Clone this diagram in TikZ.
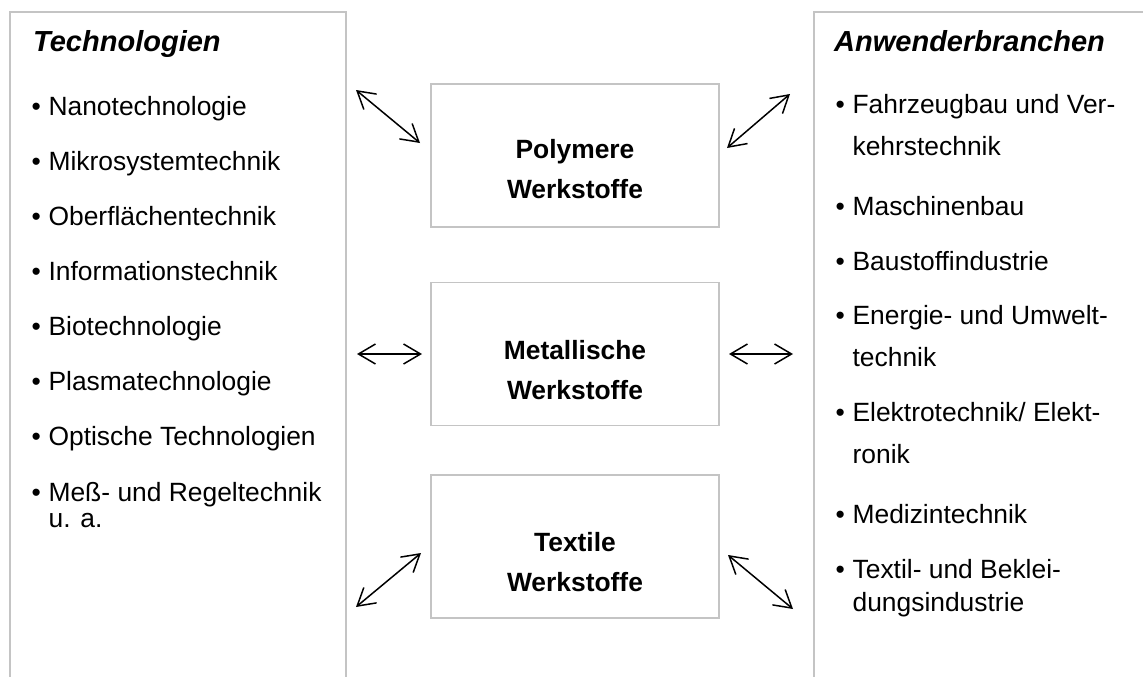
\documentclass[tikz,border=0pt]{standalone}
\usepackage{fontspec}
\setmainfont{Liberation Sans}
\usetikzlibrary{arrows.meta}
\definecolor{panelgray}{HTML}{C4C4C4}
\newcommand{\bul}{\makebox[17pt][l]{•}}
\begin{document}
\begin{tikzpicture}[x=1pt,y=-1pt,
  panel/.style={draw=panelgray, line width=1.5pt},
  matbox/.style={draw=panelgray, line width=1.5pt, minimum width=288pt, minimum height=143pt, inner sep=0pt},
  ttl/.style={anchor=base west, inner sep=0pt, font=\fontsize{29}{35}\selectfont\bfseries\itshape},
  itm/.style={anchor=base west, inner sep=0pt, font=\fontsize{26.4}{32}\selectfont},
  mattext/.style={anchor=base, inner sep=0pt, font=\fontsize{26.4}{32}\selectfont\bfseries},
  link/.style={line width=1.5pt, {Straight Barb[length=17pt,width=20pt]}-{Straight Barb[length=17pt,width=20pt]}}
]
\useasboundingbox (0,0) rectangle (1143,677);
\fill[white] (0,0) rectangle (1143,677);

% panels
\draw[panel] (10,690) -- (10,12) -- (346,12) -- (346,690);
\draw[panel] (1160,12) -- (814,12) -- (814,690);

% left panel
\node[ttl] (lt) at (33,52) {Technologien};
\node[itm] (l1) at (31.4,115) {\bul Nanotechnologie};
\node[itm] (l2) at (31.4,170.1) {\bul Mikrosystemtechnik};
\node[itm] (l3) at (31.4,225.3) {\bul Oberflächentechnik};
\node[itm] (l4) at (31.4,280.4) {\bul Informationstechnik};
\node[itm] (l5) at (31.4,335.6) {\bul Biotechnologie};
\node[itm] (l6) at (31.4,390.7) {\bul Plasmatechnologie};
\node[itm] (l7) at (31.4,445.9) {\bul Optische Technologien};
\node[itm] (l8) at (31.4,501) {\bul Meß- und Regeltechnik};
\node[itm] (l8b) at (48.4,527) {u. a.};

% right panel
\node[ttl] (rt) at (834,52) {Anwenderbranchen};
\node[itm] (r1) at (835.4,113.5) {\bul Fahrzeugbau und Ver-};
\node[itm] (r1b) at (852.4,155.5) {kehrstechnik};
\node[itm] (r2) at (835.4,215.5) {\bul Maschinenbau};
\node[itm] (r3) at (835.4,270.5) {\bul Baustoffindustrie};
\node[itm] (r4) at (835.4,324.5) {\bul Energie- und Umwelt-};
\node[itm] (r4b) at (852.4,366.5) {technik};
\node[itm] (r5) at (835.4,421.5) {\bul Elektrotechnik/ Elekt-};
\node[itm] (r5b) at (852.4,463.5) {ronik};
\node[itm] (r6) at (835.4,523.5) {\bul Medizintechnik};
\node[itm] (r7) at (835.4,578) {\bul Textil- und Beklei-};
\node[itm] (r7b) at (852.4,611) {dungsindustrie};

% material boxes
\node[matbox] (poly) at (575,155.5) {};
\node[matbox] (metal) at (575,354) {};
\node[matbox] (text) at (575,546.5) {};
\node[mattext] (poly1) at (575,158.5) {Polymere};
\node[mattext] (poly2) at (575,198.5) {Werkstoffe};
\node[mattext] (metal1) at (575,359) {Metallische};
\node[mattext] (metal2) at (575,399) {Werkstoffe};
\node[mattext] (text1) at (575,551) {Textile};
\node[mattext] (text2) at (575,591) {Werkstoffe};

% arrow end points
\coordinate (tla) at (356,90);  \coordinate (tlb) at (420,143);
\coordinate (mla) at (357,354); \coordinate (mlb) at (422,354);
\coordinate (bla) at (356,607); \coordinate (blb) at (421,553);
\coordinate (tra) at (727,148); \coordinate (trb) at (790,94);
\coordinate (mra) at (729,354); \coordinate (mrb) at (793,354);
\coordinate (bra) at (728,555); \coordinate (brb) at (793,609);

\draw[link] (tla) -- (tlb);
\draw[link] (mla) -- (mlb);
\draw[link] (bla) -- (blb);
\draw[link] (tra) -- (trb);
\draw[link] (mra) -- (mrb);
\draw[link] (bra) -- (brb);
\end{tikzpicture}
\end{document}
